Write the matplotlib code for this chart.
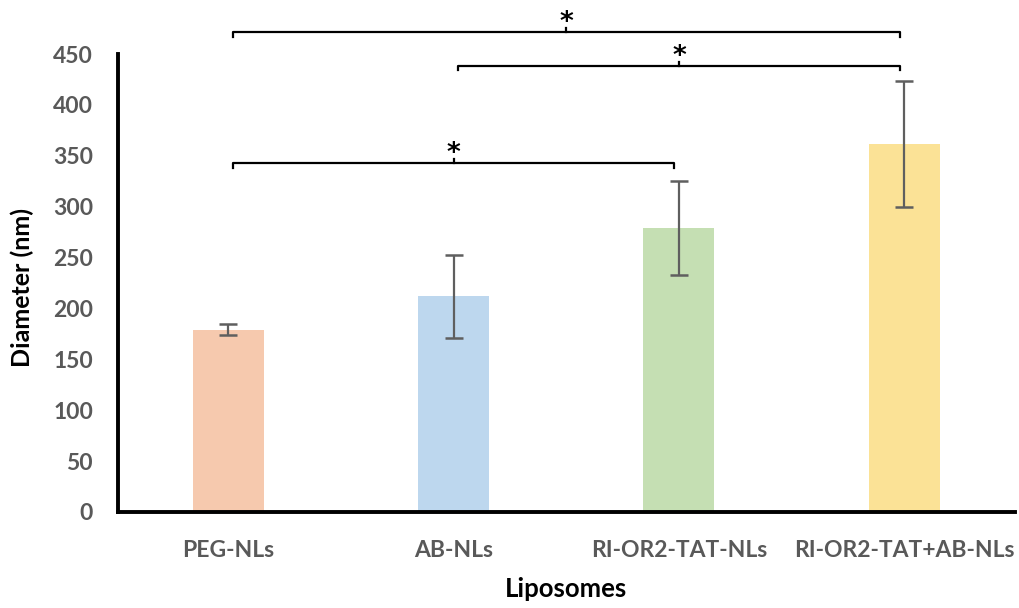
import numpy as np
import matplotlib.pyplot as plt

plt.rcParams['font.family'] = ['Lato', 'DejaVu Sans']

# 粒径数据 (nm)
groups = ['PEG-NLs', 'AB-NLs', 'RI-OR2-TAT-NLs', 'RI-OR2-TAT+AB-NLs']
diameter = [179, 212, 279, 362]
diameter_sd = [5.5, 41, 46, 62]
bar_colors = ['#F6C9AE', '#BDD7EE', '#C5DFB3', '#FBE296']

# 显著性标注: (组1, 组2, 横线高度)
sig_pairs = [(0, 3, 471.5), (1, 3, 438.5), (0, 2, 343)]
sig_text = ['*', '*', '*']


def bracket(ax, x1, x2, y, drop=4.5, tick=4.0, label='*'):
    # 横线两端向下弯, 中间向上一个小刻度
    ax.plot([x1, x1, x2, x2], [y - drop, y, y, y - drop], color='black',
            lw=1.6, solid_joinstyle='round', clip_on=False)
    xm = (x1 + x2) / 2
    ax.plot([xm, xm], [y, y + tick], color='black', lw=1.6, clip_on=False)
    ax.text(xm, y + tick + 5, label, ha='center', va='center',
            fontsize=19, fontweight='bold', color='black',
            family='DejaVu Sans', clip_on=False)


def draw():
    fig = plt.figure(figsize=(10.2, 6.08), dpi=100)
    ax = fig.add_axes([0.1157, 0.158, 0.879, 0.753])
    x = np.arange(len(groups))
    ax.bar(x, diameter, width=0.315, color=bar_colors, yerr=diameter_sd,
           error_kw=dict(ecolor='#5f5f5f', elinewidth=1.6, capsize=6.5,
                         capthick=1.8))

    for (i, j, h), s in zip(sig_pairs, sig_text):
        bracket(ax, x[i] + 0.02, x[j] - 0.02, h, label=s)

    ax.set_xlim(-0.49, 3.49)
    ax.set_ylim(0, 450)
    ax.set_yticks(np.arange(0, 451, 50))
    ax.set_xticks(x)
    ax.set_xticklabels(groups)

    for side in ['top', 'right']:
        ax.spines[side].set_visible(False)
    for side in ['left', 'bottom']:
        ax.spines[side].set_linewidth(2.8)
        ax.spines[side].set_color('black')
        ax.spines[side].set_capstyle('projecting')

    ax.tick_params(axis='both', length=0, labelsize=16.5, labelcolor='#595959')
    ax.tick_params(axis='y', pad=18)
    ax.tick_params(axis='x', pad=20)
    for t in ax.get_xticklabels() + ax.get_yticklabels():
        t.set_fontweight('bold')

    ax.set_ylabel('Diameter (nm)', fontsize=18, fontweight='bold', color='black',
                  va='center')
    ax.set_xlabel('Liposomes', fontsize=18.5, fontweight='bold', color='black',
                  va='center')
    ax.yaxis.set_label_coords(-0.107, 0.49)
    ax.xaxis.set_label_coords(0.5, -0.168)

    fig.savefig('out.png', dpi=100)


if __name__ == '__main__':
    draw()
